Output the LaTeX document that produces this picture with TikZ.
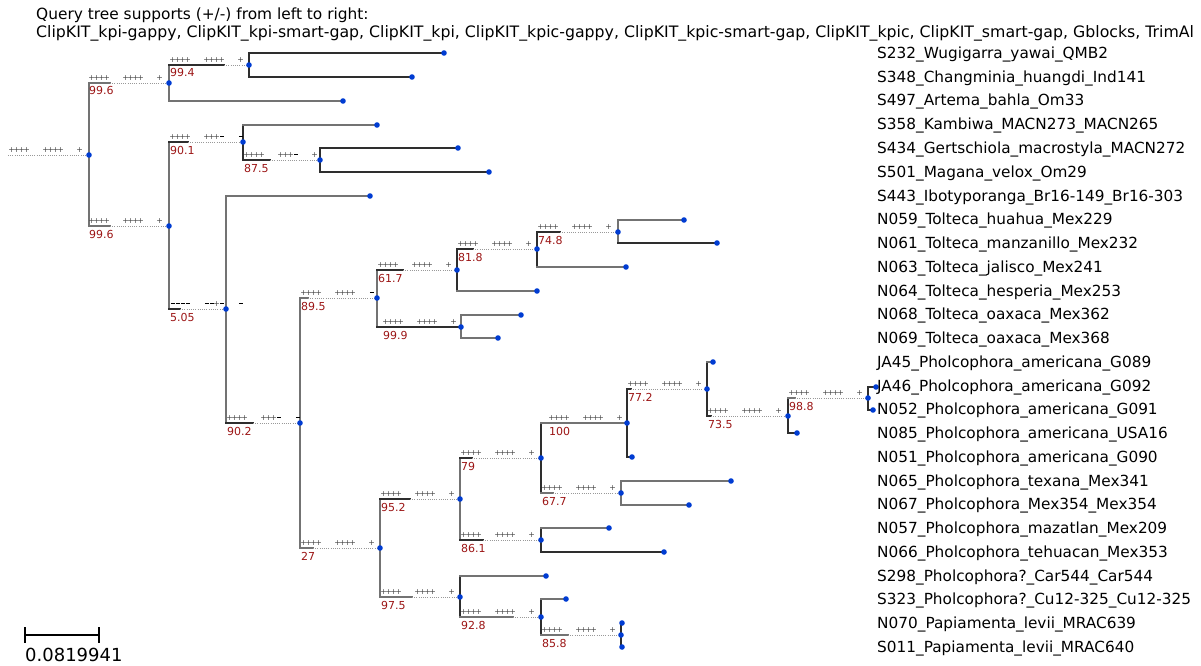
\documentclass[tikz,border=0pt]{standalone}
\usepackage{fontspec}
\setmainfont{DejaVu Sans}
\definecolor{dotblue}{RGB}{0,60,210}
\definecolor{supred}{RGB}{155,20,20}
\newcommand\p{\makebox[5pt]{+}}
\newcommand\mn{\makebox[5pt]{\textcolor{black}{\rule[2.4pt]{3.6pt}{0.9pt}}}}
\newcommand\sg[3]{{\fontsize{7.8}{9}\selectfont #1\hspace{14pt}#2\hspace{14pt}#3}}
\newcommand\brlab[7]{%
  \node[sgn] (s#1) at (#2+1,#3-2.3) {\sg{#4}{#5}{#6}};
  \node[supv] (v#1) at (#2+1,#3+12) {#7};}
\begin{document}
\begin{tikzpicture}[x=1pt,y=-1pt,
  bk/.style={draw=black!82,line width=1.2pt,line cap=rect},
  gr/.style={draw=black!55,line width=1.2pt,line cap=rect},
  ext/.style={draw=black!40,line width=0.9pt,dash pattern=on 0.9pt off 1.3pt},
  dot/.style={circle,fill=dotblue,inner sep=0pt,minimum size=5.6pt},
  leaf/.style={anchor=base west,inner sep=0pt,font=\fontsize{15.3}{18}\selectfont},
  supv/.style={anchor=base west,inner sep=0pt,text=supred,font=\fontsize{11}{13}\selectfont},
  sgn/.style={anchor=base west,inner sep=0pt,text=black!72},
  ttl/.style={anchor=base west,inner sep=0pt}]
\useasboundingbox (0,0) rectangle (1201,666);

% ---------- coordinates ----------
\coordinate (r0) at (8,155);
\coordinate (root) at (89,155);
\coordinate (A) at (169,83); \coordinate (As) at (110,83);
\coordinate (B) at (249,65); \coordinate (Bs) at (224,65);
\coordinate (S232) at (444,53);
\coordinate (S348) at (412,77);
\coordinate (S497) at (343,101);
\coordinate (C) at (169,226); \coordinate (Cs) at (110,226);
\coordinate (D) at (243,142); \coordinate (Ds) at (188,142);
\coordinate (S358) at (377,125);
\coordinate (E) at (320,160); \coordinate (Es) at (270,160);
\coordinate (S434) at (458,148);
\coordinate (S501) at (489,172);
\coordinate (F) at (226,309); \coordinate (Fs) at (180,309);
\coordinate (S443) at (370,196);
\coordinate (G) at (300,423); \coordinate (Gs) at (253,423);
\coordinate (H) at (377,298); \coordinate (Hs) at (308,298);
\coordinate (I) at (457,270); \coordinate (Is) at (403,270);
\coordinate (J) at (537,249); \coordinate (Js) at (473,249);
\coordinate (K) at (618,232); \coordinate (Ks) at (560,232);
\coordinate (N059) at (684,220);
\coordinate (N061) at (717,243);
\coordinate (N063) at (626,267);
\coordinate (N064) at (537,291);
\coordinate (L) at (461,327);
\coordinate (N068) at (521,315);
\coordinate (N069) at (498,338);
\coordinate (M) at (380,548); \coordinate (Ms) at (313,548);
\coordinate (N) at (460,499); \coordinate (Ns) at (410,499);
\coordinate (O) at (541,458); \coordinate (Os) at (472,458);
\coordinate (P) at (627,423);
\coordinate (Q) at (707,389); \coordinate (Qs) at (631,389);
\coordinate (JA45) at (713,362);
\coordinate (R) at (788,416); \coordinate (Rs) at (711,416);
\coordinate (N085) at (797,433);
\coordinate (S) at (868,398); \coordinate (Ss) at (795,398);
\coordinate (JA46) at (876,387);
\coordinate (N052) at (873,410);
\coordinate (N051) at (632,457);
\coordinate (T) at (621,493); \coordinate (Ts) at (553,493);
\coordinate (N065) at (731,481);
\coordinate (N067) at (689,505);
\coordinate (U) at (541,540); \coordinate (Us) at (483,540);
\coordinate (N057) at (609,528);
\coordinate (N066) at (664,552);
\coordinate (V) at (460,597); \coordinate (Vs) at (412,597);
\coordinate (S298) at (546,576);
\coordinate (W) at (541,617); \coordinate (Ws) at (513,617);
\coordinate (S323) at (566,599);
\coordinate (X) at (621,635); \coordinate (Xs) at (568,635);
\coordinate (N070) at (622,623);
\coordinate (S011) at (622,647);

% ---------- vertical lines ----------
\draw[gr] (root |- A) -- (root |- C);
\draw[gr] (A |- B) -- (A |- S497);
\draw[bk] (B |- S232) -- (B |- S348);
\draw[gr] (C |- D) -- (C |- F);
\draw[bk] (D |- S358) -- (D |- E);
\draw[bk] (E |- S434) -- (E |- S501);
\draw[gr] (F |- S443) -- (F |- G);
\draw[gr] (G |- H) -- (G |- M);
\draw[gr] (H |- I) -- (H |- L);
\draw[bk] (I |- J) -- (I |- N064);
\draw[bk] (J |- K) -- (J |- N063);
\draw[gr] (K |- N059) -- (K |- N061);
\draw[gr] (L |- N068) -- (L |- N069);
\draw[gr] (M |- N) -- (M |- V);
\draw[gr] (N |- O) -- (N |- U);
\draw[bk] (O |- P) -- (O |- T);
\draw[bk] (P |- Q) -- (P |- N051);
\draw[bk] (Q |- JA45) -- (Q |- R);
\draw[bk] (R |- S) -- (R |- N085);
\draw[bk] (S |- JA46) -- (S |- N052);
\draw[gr] (T |- N065) -- (T |- N067);
\draw[bk] (U |- N057) -- (U |- N066);
\draw[bk] (V |- S298) -- (V |- W);
\draw[bk] (W |- S323) -- (W |- X);
\draw[bk] (X |- N070) -- (X |- S011);

% ---------- internal branches ----------
\draw[ext] (r0) -- (root);
\draw[gr] (root |- A) -- (As); \draw[ext] (As) -- (A);
\draw[bk] (A |- B) -- (Bs); \draw[ext] (Bs) -- (B);
\draw[gr] (root |- C) -- (Cs); \draw[ext] (Cs) -- (C);
\draw[bk] (C |- D) -- (Ds); \draw[ext] (Ds) -- (D);
\draw[bk] (D |- E) -- (Es); \draw[ext] (Es) -- (E);
\draw[bk] (C |- F) -- (Fs); \draw[ext] (Fs) -- (F);
\draw[bk] (F |- G) -- (Gs); \draw[ext] (Gs) -- (G);
\draw[gr] (G |- H) -- (Hs); \draw[ext] (Hs) -- (H);
\draw[bk] (H |- I) -- (Is); \draw[ext] (Is) -- (I);
\draw[bk] (I |- J) -- (Js); \draw[ext] (Js) -- (J);
\draw[bk] (J |- K) -- (Ks); \draw[ext] (Ks) -- (K);
\draw[bk] (H |- L) -- (L);
\draw[gr] (G |- M) -- (Ms); \draw[ext] (Ms) -- (M);
\draw[bk] (M |- N) -- (Ns); \draw[ext] (Ns) -- (N);
\draw[bk] (N |- O) -- (Os); \draw[ext] (Os) -- (O);
\draw[gr] (O |- P) -- (P);
\draw[bk] (P |- Q) -- (Qs); \draw[ext] (Qs) -- (Q);
\draw[bk] (Q |- R) -- (Rs); \draw[ext] (Rs) -- (R);
\draw[gr] (R |- S) -- (Ss); \draw[ext] (Ss) -- (S);
\draw[gr] (O |- T) -- (Ts); \draw[ext] (Ts) -- (T);
\draw[bk] (N |- U) -- (Us); \draw[ext] (Us) -- (U);
\draw[gr] (M |- V) -- (Vs); \draw[ext] (Vs) -- (V);
\draw[gr] (V |- W) -- (Ws); \draw[ext] (Ws) -- (W);
\draw[gr] (W |- X) -- (Xs); \draw[ext] (Xs) -- (X);

% ---------- leaf branches ----------
\draw[bk] (B |- S232) -- (S232);
\draw[bk] (B |- S348) -- (S348);
\draw[gr] (A |- S497) -- (S497);
\draw[gr] (D |- S358) -- (S358);
\draw[bk] (E |- S434) -- (S434);
\draw[bk] (E |- S501) -- (S501);
\draw[gr] (F |- S443) -- (S443);
\draw[gr] (K |- N059) -- (N059);
\draw[bk] (K |- N061) -- (N061);
\draw[gr] (J |- N063) -- (N063);
\draw[gr] (I |- N064) -- (N064);
\draw[gr] (L |- N068) -- (N068);
\draw[gr] (L |- N069) -- (N069);
\draw[gr] (Q |- JA45) -- (JA45);
\draw[bk] (R |- N085) -- (N085);
\draw[bk] (S |- JA46) -- (JA46);
\draw[bk] (S |- N052) -- (N052);
\draw[bk] (P |- N051) -- (N051);
\draw[gr] (T |- N065) -- (N065);
\draw[gr] (T |- N067) -- (N067);
\draw[gr] (U |- N057) -- (N057);
\draw[bk] (U |- N066) -- (N066);
\draw[gr] (V |- S298) -- (S298);
\draw[gr] (W |- S323) -- (S323);
\draw[gr] (X |- N070) -- (N070);
\draw[gr] (X |- S011) -- (S011);

% ---------- dots ----------
\foreach \n in {root,A,B,C,D,E,F,G,H,I,J,K,L,M,N,O,P,Q,R,S,T,U,V,W,X,
  S232,S348,S497,S358,S434,S501,S443,N059,N061,N063,N064,N068,N069,
  JA45,JA46,N052,N085,N051,N065,N067,N057,N066,S298,S323,N070,S011}
  \node[dot] (d\n) at (\n) {};

% ---------- branch labels ----------
\node[sgn] (sroot) at (9,152.7) {\sg{\p\p\p\p}{\p\p\p\p}{\p}};
\brlab{A}{88}{83}{\p\p\p\p}{\p\p\p\p}{\p}{99.6}
\brlab{B}{169}{65}{\p\p\p\p}{\p\p\p\p}{\p}{99.4}
\brlab{C}{88}{226}{\p\p\p\p}{\p\p\p\p}{\p}{99.6}
\brlab{D}{169}{142}{\p\p\p\p}{\p\p\p\mn}{\mn}{90.1}
\brlab{E}{243}{160}{\p\p\p\p}{\p\p\p\mn}{\p}{87.5}
\brlab{F}{169}{309}{\mn\mn\mn\mn}{\mn\mn\p\mn}{\mn}{5.05}
\brlab{G}{226}{423}{\p\p\p\p}{\p\p\p\mn}{\mn}{90.2}
\brlab{H}{300}{298}{\p\p\p\p}{\p\p\p\p}{\mn}{89.5}
\brlab{I}{377}{270}{\p\p\p\p}{\p\p\p\p}{\p}{61.7}
\brlab{J}{457}{249}{\p\p\p\p}{\p\p\p\p}{\p}{81.8}
\brlab{K}{537}{232}{\p\p\p\p}{\p\p\p\p}{\p}{74.8}
\brlab{L}{382}{327}{\p\p\p\p}{\p\p\p\p}{\p}{99.9}
\brlab{M}{300}{548}{\p\p\p\p}{\p\p\p\p}{\p}{27}
\brlab{N}{380}{499}{\p\p\p\p}{\p\p\p\p}{\p}{95.2}
\brlab{O}{460}{458}{\p\p\p\p}{\p\p\p\p}{\p}{79}
\brlab{P}{548}{423}{\p\p\p\p}{\p\p\p\p}{\p}{100}
\brlab{Q}{627}{389}{\p\p\p\p}{\p\p\p\p}{\p}{77.2}
\brlab{R}{707}{416}{\p\p\p\p}{\p\p\p\p}{\p}{73.5}
\brlab{S}{788}{398}{\p\p\p\p}{\p\p\p\p}{\p}{98.8}
\brlab{T}{541}{493}{\p\p\p\p}{\p\p\p\p}{\p}{67.7}
\brlab{U}{460}{540}{\p\p\p\p}{\p\p\p\p}{\p}{86.1}
\brlab{V}{380}{597}{\p\p\p\p}{\p\p\p\p}{\p}{97.5}
\brlab{W}{460}{617}{\p\p\p\p}{\p\p\p\p}{\p}{92.8}
\brlab{X}{541}{635}{\p\p\p\p}{\p\p\p\p}{\p}{85.8}

% ---------- leaf labels ----------
\foreach \i/\nm/\t in {
 0/S232/S232\_Wugigarra\_yawai\_QMB2,
 1/S348/S348\_Changminia\_huangdi\_Ind141,
 2/S497/S497\_Artema\_bahla\_Om33,
 3/S358/S358\_Kambiwa\_MACN273\_MACN265,
 4/S434/S434\_Gertschiola\_macrostyla\_MACN272,
 5/S501/S501\_Magana\_velox\_Om29,
 6/S443/S443\_Ibotyporanga\_Br16-149\_Br16-303,
 7/N059/N059\_Tolteca\_huahua\_Mex229,
 8/N061/N061\_Tolteca\_manzanillo\_Mex232,
 9/N063/N063\_Tolteca\_jalisco\_Mex241,
 10/N064/N064\_Tolteca\_hesperia\_Mex253,
 11/N068/N068\_Tolteca\_oaxaca\_Mex362,
 12/N069/N069\_Tolteca\_oaxaca\_Mex368,
 13/JA45/JA45\_Pholcophora\_americana\_G089,
 14/JA46/JA46\_Pholcophora\_americana\_G092,
 15/N052/N052\_Pholcophora\_americana\_G091,
 16/N085/N085\_Pholcophora\_americana\_USA16,
 17/N051/N051\_Pholcophora\_americana\_G090,
 18/N065/N065\_Pholcophora\_texana\_Mex341,
 19/N067/N067\_Pholcophora\_Mex354\_Mex354,
 20/N057/N057\_Pholcophora\_mazatlan\_Mex209,
 21/N066/N066\_Pholcophora\_tehuacan\_Mex353,
 22/S298/S298\_Pholcophora?\_Car544\_Car544,
 23/S323/S323\_Pholcophora?\_Cu12-325\_Cu12-325,
 24/N070/N070\_Papiamenta\_levii\_MRAC639,
 25/S011/S011\_Papiamenta\_levii\_MRAC640}
 \node[leaf] (l\nm) at (877,{53+23.75*\i+5.5}) {\t};

% ---------- title ----------
\node[ttl,font=\fontsize{15.4}{18}\selectfont] (t1) at (36,19.5) {Query tree supports (+/-) from left to right:};
\node[ttl,font=\fontsize{15.75}{18}\selectfont] (t2) at (36,37.5) {ClipKIT\_kpi-gappy, ClipKIT\_kpi-smart-gap, ClipKIT\_kpi, ClipKIT\_kpic-gappy, ClipKIT\_kpic-smart-gap, ClipKIT\_kpic, ClipKIT\_smart-gap, Gblocks, TrimAl};

% ---------- scale bar ----------
\coordinate (sb1) at (25,635);
\coordinate (sb2) at (99,635);
\draw[black,line width=1.2pt] (sb1) -- (sb2);
\draw[black,line width=1.2pt] (sb1) ++(0,-8) -- ++(0,16);
\draw[black,line width=1.2pt] (sb2) ++(0,-8) -- ++(0,16);
\node[anchor=base west,inner sep=0pt,font=\fontsize{18}{20}\selectfont] (sbl) at (25,661.5) {0.0819941};
\end{tikzpicture}
\end{document}
